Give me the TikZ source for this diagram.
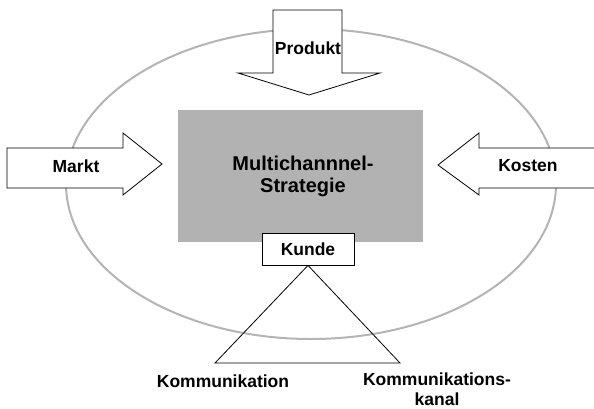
\documentclass[tikz,border=0pt]{standalone}
\usepackage{fontspec}
\setmainfont{Liberation Sans}
\begin{document}
\begin{tikzpicture}[x=1pt,y=-1pt,
  lbl/.style={font=\fontsize{17.5}{21}\selectfont\bfseries, inner sep=0pt},
  bigarrow/.style={draw=black, fill=white, line width=0.8pt, line join=miter},
  ring/.style={draw=ringgray, line width=2pt},
  core/.style={fill=coregray, draw=none}]
\definecolor{ringgray}{HTML}{B4B4B4}
\definecolor{coregray}{HTML}{B2B2B2}
\useasboundingbox (0,0) rectangle (594,409);
% ellipse
\draw[ring] (311,184) ellipse [x radius=245, y radius=155];
% central rectangle
\fill[core] (178,110) rectangle (423,242);
\node[font=\fontsize{20}{22}\selectfont\bfseries, align=center, inner sep=0pt] (strat) at (303,176) {Multichannnel-\\Strategie};
% Produkt arrow
\draw[bigarrow] (273,10) -- (342,10) -- (342,73) -- (380,73) -- (309,95) -- (238,73) -- (273,73) -- cycle;
\node[lbl] (produkt) at (308,48) {Produkt};
% Markt arrow
\draw[bigarrow] (7,148) -- (123,148) -- (123,133) -- (162,164) -- (123,195) -- (123,188) -- (7,188) -- cycle;
\node[lbl] (markt) at (76,166) {Markt};
% Kosten arrow
\draw[bigarrow] (600,148) -- (479,148) -- (479,133) -- (438,165) -- (479,195) -- (479,188) -- (600,188);
\node[lbl] (kosten) at (528,166) {Kosten};
% Kunde box
\node[lbl, draw=black, line width=0.8pt, fill=white, minimum width=92pt, minimum height=32pt, inner sep=0pt] (kunde) at (308,249) {Kunde};
% triangle
\coordinate (tl) at (215,363);
\coordinate (tr) at (400,363);
\draw[line width=0.8pt] (kunde.south) -- (tl) -- (tr) -- cycle;
\node[lbl] (komm) at (223,381) {Kommunikation};
\node[lbl, align=center, font=\fontsize{17.5}{20}\selectfont\bfseries] (kanal) at (437,389) {Kommunikations-\\kanal};
\end{tikzpicture}
\end{document}
